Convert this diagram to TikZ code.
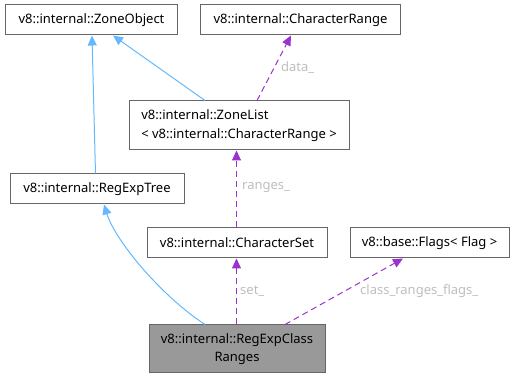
\documentclass[tikz,border=0pt]{standalone}
\usepackage{fontspec}
\setmainfont{Noto Sans}
\usetikzlibrary{arrows.meta}
\definecolor{inhblue}{HTML}{63B8FF}
\definecolor{usepurple}{HTML}{9A32CD}
\definecolor{boxline}{HTML}{666666}
\definecolor{lblgrey}{HTML}{BEBEBE}
\tikzset{
  box/.style={draw=boxline, line width=1pt, fill=white, inner sep=0pt, font=\fontsize{13}{18.5}\selectfont, align=center},
  mainbox/.style={box, fill=black!40},
  inherit/.style={draw=inhblue, line width=1pt, -{Triangle[length=10pt,width=9pt,fill=inhblue]}},
  uses/.style={draw=usepurple, line width=1pt, dash pattern=on 6pt off 4pt, -{Triangle[length=10pt,width=9pt,fill=usepurple]}},
  lbl/.style={text=lblgrey, font=\fontsize{13}{15}\selectfont, anchor=west, inner sep=0pt}
}
\begin{document}
\begin{tikzpicture}[x=1pt,y=-1pt]
\useasboundingbox (0,0) rectangle (515,379);
% class boxes
\node[box, minimum width=172pt, minimum height=30pt] (zo) at (91.5,20) {v8::internal::ZoneObject};
\node[box, minimum width=200pt, minimum height=30pt] (cr) at (300.5,20) {v8::internal::CharacterRange};
\node[box, minimum width=220pt, minimum height=49pt, align=left] (zl) at (239,125.5) {v8::internal::ZoneList\\< v8::internal::CharacterRange >};
\node[box, minimum width=174pt, minimum height=30pt] (ret) at (97,189) {v8::internal::RegExpTree};
\node[box, minimum width=180pt, minimum height=30pt] (cs) at (237,243) {v8::internal::CharacterSet};
\node[box, minimum width=159pt, minimum height=30pt] (fl) at (429.5,243) {v8::base::Flags< Flag >};
\node[mainbox, minimum width=176pt, minimum height=48pt] (rcr) at (237,349) {v8::internal::RegExpClass\\Ranges};
% inheritance
\draw[inherit] ([xshift=-1.5pt]ret.north) -- ([xshift=0.5pt]zo.south);
\draw[inherit] ([xshift=-34pt]zl.north) -- ([xshift=21.5pt]zo.south);
\draw[inherit] ([xshift=-32pt]rcr.north) .. controls (160,295) and (115,240) .. ([xshift=7pt]ret.south);
% member usage
\draw[uses] ([xshift=18pt]zl.north) -- ([xshift=-9.5pt]cr.south);
\draw[uses] ([xshift=-0.5pt]cs.north) -- ([xshift=-2.5pt]zl.south);
\draw[uses] ([xshift=-0.5pt]rcr.north) -- ([xshift=-0.5pt]cs.south);
\draw[uses] ([xshift=48pt]rcr.north) -- ([xshift=-26.5pt]fl.south);
% member labels
\node[lbl] (ldata) at (281,68) {data\_};
\node[lbl] (lranges) at (242,188) {ranges\_};
\node[lbl] (lset) at (240,291) {set\_};
\node[lbl] (lflags) at (360,291) {class\_ranges\_flags\_};
\end{tikzpicture}
\end{document}
